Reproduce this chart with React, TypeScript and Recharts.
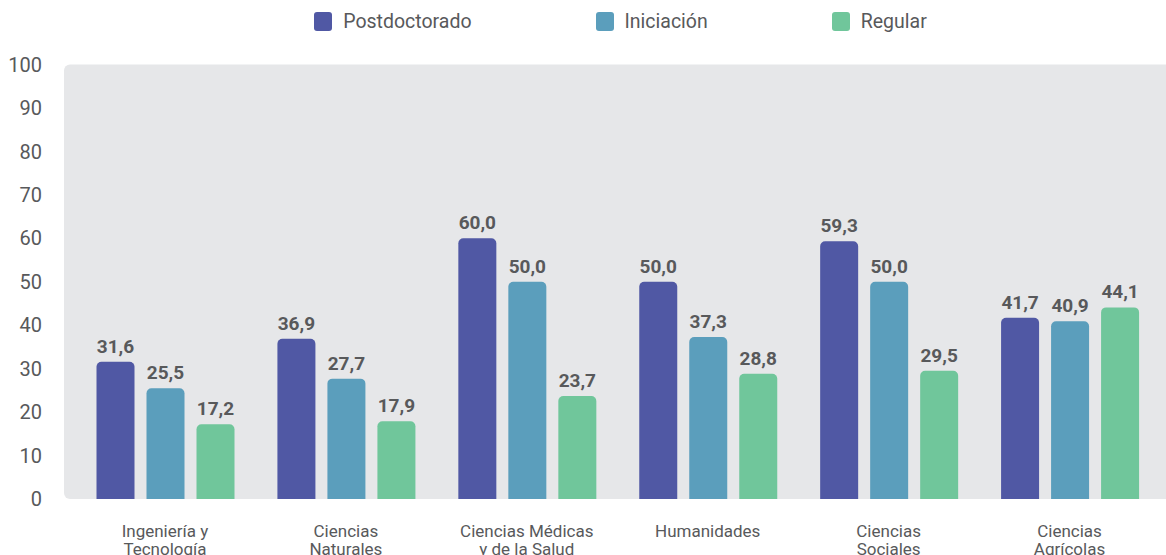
import React from "react";
import * as Recharts from "recharts";
import {
  BarChart,
  Bar,
  XAxis,
  YAxis,
  CartesianGrid,
  LabelList,
} from "recharts";

// Áreas de conocimiento (saltos de línea como en el eje)
const categories: string[] = [
  "Ingeniería y\nTecnología",
  "Ciencias\nNaturales",
  "Ciencias Médicas\ny de la Salud",
  "Humanidades",
  "Ciencias\nSociales",
  "Ciencias\nAgrícolas",
];

const postdoctorado: number[] = [31.6, 36.9, 60.0, 50.0, 59.3, 41.7];
const iniciacion: number[] = [25.5, 27.7, 50.0, 37.3, 50.0, 40.9];
const regular: number[] = [17.2, 17.9, 23.7, 28.8, 29.5, 44.1];

const yTicks: number[] = [0, 10, 20, 30, 40, 50, 60, 70, 80, 90, 100];

const seriesNames = ["Postdoctorado", "Iniciación", "Regular"];
const seriesKeys = ["postdoctorado", "iniciacion", "regular"];
const seriesColors = ["#5058A4", "#5B9EBC", "#70C69B"];

const data = categories.map((c, i) => ({
  category: c,
  postdoctorado: postdoctorado[i],
  iniciacion: iniciacion[i],
  regular: regular[i],
}));

const FONT = "Roboto, 'Noto Sans', sans-serif";
const TEXT = "#58595B";

const fmt = (v: any) => Number(v).toFixed(1).replace(".", ",");

// Fondo gris redondeado del área de trazado
const PlotBackground = () => {
  const usePlotArea = (Recharts as any).usePlotArea;
  const area = usePlotArea ? usePlotArea() : null;
  if (!area) return null;
  return (
    <rect
      x={area.x}
      y={area.y}
      width={area.width + 12}
      height={area.height}
      rx={6}
      ry={6}
      fill="#E6E7E9"
    />
  );
};

const CategoryTick = (props: any) => {
  const { x, y, payload } = props;
  const lines = String(payload.value).split("\n");
  return (
    <text
      x={x}
      y={y}
      textAnchor="middle"
      fill={TEXT}
      fontSize={17}
      fontFamily={FONT}
    >
      {lines.map((l, i) => (
        <tspan key={i} x={x} y={y + 36 + i * 18}>
          {l}
        </tspan>
      ))}
    </text>
  );
};

const LegendRow = () => (
  <div
    style={{
      position: "absolute",
      left: 0,
      top: 12,
      width: 1166,
      paddingLeft: 75,
      boxSizing: "border-box",
      display: "flex",
      justifyContent: "center",
      alignItems: "center",
      gap: 124,
      fontFamily: FONT,
      fontSize: 19.5,
      color: TEXT,
    }}
  >
    {seriesNames.map((n, i) => (
      <div key={n} style={{ display: "flex", alignItems: "center", gap: 11 }}>
        <span
          style={{
            display: "inline-block",
            width: 18,
            height: 19,
            borderRadius: 3,
            background: seriesColors[i],
          }}
        />
        <span style={{ lineHeight: "19px" }}>{n}</span>
      </div>
    ))}
  </div>
);

export default function App() {
  return (
    <div
      style={{
        position: "absolute",
        left: 0,
        top: 0,
        width: 1166,
        height: 555,
        background: "#fff",
        overflow: "hidden",
      }}
    >
      <LegendRow />
      <BarChart
        width={1166}
        height={555}
        data={data}
        margin={{ top: 64.5, right: 0, bottom: 0, left: 0 }}
        barCategoryGap={22}
        barGap={12}
      >
        <PlotBackground />
        <CartesianGrid
          vertical={false}
          horizontal
          stroke="#FFFFFF"
          strokeWidth={2}
          horizontalValues={[10, 20, 30, 40, 50, 60, 70, 80, 90]}
        />
        <XAxis
          dataKey="category"
          axisLine={false}
          tickLine={false}
          tickSize={0}
          height={56}
          interval={0}
          padding={{ left: 10.5, right: 6 }}
          tick={<CategoryTick />}
        />
        <YAxis
          domain={[0, 100]}
          ticks={yTicks}
          width={64}
          axisLine={false}
          tickLine={false}
          tickSize={0}
          tickMargin={22}
          interval={0}
          tick={{ fill: TEXT, fontSize: 20, fontFamily: FONT }}
        />
        {seriesKeys.map((k, i) => (
          <Bar
            key={k}
            dataKey={k}
            name={seriesNames[i]}
            fill={seriesColors[i]}
            radius={[5, 5, 0, 0]}
            isAnimationActive={false}
          >
            <LabelList
              dataKey={k}
              position="top"
              offset={9}
              formatter={fmt}
              fill={TEXT}
              fontSize={19}
              fontWeight={700}
              fontFamily={FONT}
            />
          </Bar>
        ))}
      </BarChart>
    </div>
  );
}
